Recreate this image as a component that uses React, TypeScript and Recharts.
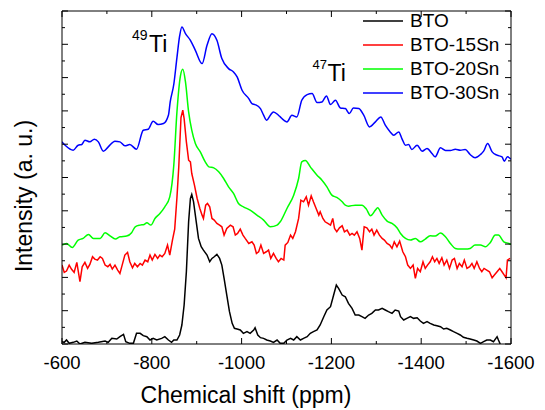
import React from 'react';
import { LineChart, Line, XAxis, YAxis, Legend } from 'recharts';

const FONT = '"Liberation Sans", Arial, Helvetica, sans-serif';

const xMajorTicks = [-600, -800, -1000, -1200, -1400, -1600];
const xMinorTicks = [-700, -900, -1100, -1300, -1500];
const yMajorTicks = [0, 1, 2, 3, 4, 5, 6, 7, 8, 9, 10];
const yMinorTicks = [0.5, 1.5, 2.5, 3.5, 4.5, 5.5, 6.5, 7.5, 8.5, 9.5];

// BTO
const btoShift = [-600, -605, -610, -616, -625, -633, -640, -651, -666, -681, -696, -703, -711, -722, -729, -737, -742, -751, -759, -766, -774, -781, -789, -796, -803, -811, -822, -829, -837, -844, -849, -856, -862, -867, -872, -877, -882, -886, -889, -893, -899, -904, -910, -915, -923, -929, -934, -939, -945, -951, -956, -961, -967, -973, -979, -984, -990, -997, -1004, -1012, -1019, -1027, -1030, -1036, -1042, -1049, -1056, -1064, -1071, -1079, -1086, -1094, -1101, -1109, -1116, -1123, -1131, -1138, -1146, -1153, -1160, -1168, -1175, -1183, -1190, -1198, -1205, -1211, -1216, -1224, -1231, -1238, -1246, -1253, -1261, -1268, -1275, -1283, -1290, -1298, -1305, -1313, -1320, -1327, -1335, -1342, -1350, -1354, -1361, -1368, -1376, -1383, -1391, -1398, -1405, -1413, -1420, -1428, -1435, -1443, -1450, -1457, -1465, -1472, -1480, -1487, -1494, -1502, -1509, -1517, -1524, -1532, -1539, -1546, -1554, -1561, -1569, -1572, -1576];
const btoIntensity = [0.07, 0.05, 0.12, 0.02, 0.05, 0.09, 0, 0.05, 0.02, 0.05, 0.09, 0.05, 0.17, 0.15, 0.22, 0.29, 0.07, 0.02, 0.02, 0.32, 0.32, 0.25, 0.22, 0.12, 0.17, 0.12, 0.17, 0.22, 0.12, 0.05, 0.12, 0.12, 0.27, 0.57, 1.17, 2.17, 3.67, 4.37, 4.49, 4.27, 3.67, 3.17, 2.92, 2.82, 2.67, 2.47, 2.57, 2.62, 2.69, 2.57, 2.37, 1.97, 1.47, 0.97, 0.62, 0.47, 0.45, 0.42, 0.32, 0.37, 0.32, 0.42, 0.49, 0.27, 0.19, 0.17, 0.12, 0.09, 0.05, 0.12, 0.02, 0.02, 0.12, 0.17, 0.12, 0.22, 0.12, 0.17, 0.22, 0.32, 0.37, 0.42, 0.57, 0.82, 1.02, 1.12, 1.47, 1.77, 1.67, 1.47, 1.42, 1.22, 1.07, 0.87, 0.87, 0.82, 0.77, 0.87, 0.92, 1.02, 1.02, 1.07, 1.02, 0.97, 0.92, 1.02, 0.99, 0.82, 0.72, 0.77, 0.82, 0.77, 0.79, 0.69, 0.62, 0.67, 0.62, 0.57, 0.55, 0.52, 0.45, 0.47, 0.42, 0.37, 0.32, 0.27, 0.2, 0.17, 0.15, 0.12, 0.09, 0.02, 0.07, 0.12, 0.12, 0.07, 0.22, 0.12, 0];

// BTO-15Sn
const sn15Shift = [-600, -605, -610, -616, -621, -627, -633, -640, -645, -651, -657, -662, -668, -673, -679, -685, -690, -696, -702, -707, -712, -718, -724, -729, -734, -740, -746, -751, -757, -762, -768, -774, -779, -785, -791, -796, -801, -807, -813, -818, -823, -829, -835, -840, -846, -851, -856, -860, -865, -869, -872, -877, -882, -886, -889, -895, -901, -907, -912, -915, -920, -924, -929, -934, -939, -945, -951, -956, -961, -967, -975, -981, -986, -991, -997, -1003, -1008, -1016, -1023, -1028, -1033, -1038, -1043, -1049, -1055, -1060, -1065, -1071, -1077, -1082, -1088, -1094, -1097, -1103, -1109, -1114, -1120, -1127, -1132, -1138, -1144, -1149, -1155, -1160, -1166, -1172, -1175, -1181, -1186, -1192, -1198, -1203, -1207, -1212, -1218, -1224, -1229, -1235, -1241, -1246, -1251, -1257, -1263, -1268, -1273, -1279, -1285, -1290, -1295, -1301, -1307, -1313, -1318, -1324, -1330, -1335, -1340, -1346, -1352, -1359, -1365, -1370, -1376, -1382, -1387, -1392, -1398, -1404, -1409, -1414, -1420, -1425, -1430, -1435, -1440, -1446, -1451, -1457, -1463, -1469, -1474, -1480, -1485, -1491, -1496, -1502, -1508, -1513, -1518, -1524, -1530, -1535, -1540, -1546, -1552, -1558, -1563, -1569, -1575, -1580, -1585, -1589, -1592, -1598];
const sn15Intensity = [2.37, 2.15, 2.19, 2.37, 2.25, 2.15, 2.45, 1.87, 2.32, 2.45, 2.27, 2.39, 2.62, 2.55, 2.52, 2.62, 2.57, 2.37, 2.32, 2.39, 2.25, 2.37, 2.22, 2.12, 2.37, 2.67, 2.75, 2.47, 2.29, 2.42, 2.32, 2.42, 2.37, 2.52, 2.47, 2.67, 2.52, 2.69, 2.57, 2.67, 2.62, 2.72, 2.97, 2.67, 3.12, 3.45, 4.4, 5.3, 6.8, 7.02, 6.77, 6.07, 5.52, 5.47, 5.12, 4.77, 4.37, 4.07, 3.87, 3.77, 4.17, 4.22, 4.12, 3.77, 3.72, 3.62, 3.57, 3.52, 3.27, 3.47, 3.57, 3.52, 3.27, 3.32, 3.45, 3.27, 3.17, 3.02, 3.07, 2.97, 2.72, 2.77, 2.97, 2.72, 2.77, 2.82, 2.57, 2.72, 2.57, 2.47, 2.57, 2.52, 2.97, 3.05, 3.27, 3.17, 3.37, 3.77, 4.32, 4.27, 4.42, 4.17, 4.45, 4.27, 4.07, 3.87, 3.97, 3.77, 3.67, 3.62, 3.57, 3.77, 3.47, 3.37, 3.49, 3.55, 3.37, 3.42, 3.27, 3.32, 3.27, 3.37, 3.17, 2.82, 3.52, 3.49, 3.37, 3.45, 3.27, 3.42, 3.27, 3.17, 3.12, 3.02, 2.97, 2.87, 3.07, 2.92, 3.09, 2.77, 2.62, 2.37, 2.27, 2.37, 1.97, 2.27, 2.17, 2.47, 2.27, 2.37, 2.47, 2.62, 2.47, 2.57, 2.42, 2.59, 2.37, 2.52, 2.27, 2.52, 2.57, 2.27, 2.42, 2.32, 2.52, 2.27, 2.32, 2.42, 2.27, 2.47, 2.27, 2.17, 2.27, 2.22, 2.17, 1.99, 2.07, 2.17, 2.27, 2.17, 2.07, 1.99, 2.52, 2.57];

// BTO-20Sn
const sn20Shift = [-600, -610, -623, -636, -647, -659, -670, -685, -696, -707, -719, -729, -744, -755, -763, -774, -783, -789, -798, -807, -818, -829, -840, -849, -856, -864, -869, -875, -882, -889, -897, -908, -919, -927, -938, -949, -960, -971, -982, -993, -1004, -1019, -1034, -1049, -1064, -1079, -1086, -1101, -1116, -1127, -1134, -1142, -1153, -1168, -1179, -1190, -1201, -1212, -1224, -1231, -1238, -1253, -1268, -1278, -1287, -1298, -1303, -1313, -1324, -1335, -1346, -1354, -1365, -1376, -1387, -1398, -1409, -1420, -1431, -1443, -1454, -1465, -1476, -1487, -1498, -1509, -1520, -1532, -1543, -1554, -1565, -1572, -1584, -1595, -1600];
const sn20Intensity = [2.97, 3.02, 2.9, 3.12, 3.17, 3.29, 3.17, 3.17, 3.34, 3.25, 3.15, 3.22, 3.24, 3.34, 3.52, 3.57, 3.59, 3.64, 3.57, 3.77, 3.92, 4.12, 4.42, 5.37, 6.97, 8.07, 8.25, 7.87, 6.97, 6.42, 6.02, 5.77, 5.47, 5.32, 5.29, 5.17, 4.97, 4.72, 4.52, 4.22, 4.12, 4.02, 3.87, 3.72, 3.52, 3.57, 3.67, 4.07, 4.47, 4.97, 5.47, 5.51, 5.32, 5.07, 4.92, 4.72, 4.47, 4.4, 4.27, 4.17, 4.14, 4.17, 4.17, 4.05, 3.85, 4.02, 4.09, 3.87, 3.69, 3.62, 3.49, 3.32, 3.17, 3.12, 3.17, 3.07, 3.15, 3.25, 3.24, 3.33, 3.22, 3.02, 2.87, 2.85, 2.85, 2.87, 2.97, 2.97, 2.92, 3.05, 3.27, 3.27, 3.07, 3.02, 2.99];

// BTO-30Sn
const sn30Shift = [-600, -607, -625, -636, -644, -651, -662, -672, -681, -692, -703, -718, -729, -740, -751, -766, -781, -792, -803, -814, -826, -837, -841, -849, -856, -862, -867, -875, -886, -897, -912, -923, -934, -945, -956, -971, -982, -990, -1001, -1016, -1023, -1030, -1042, -1049, -1056, -1064, -1071, -1082, -1086, -1094, -1101, -1112, -1123, -1134, -1146, -1157, -1168, -1179, -1189, -1198, -1209, -1220, -1231, -1240, -1249, -1261, -1272, -1285, -1298, -1310, -1320, -1331, -1339, -1350, -1357, -1365, -1372, -1379, -1391, -1402, -1413, -1424, -1431, -1443, -1454, -1465, -1476, -1487, -1498, -1509, -1520, -1532, -1539, -1548, -1558, -1569, -1580, -1585, -1592, -1600];
const sn30Intensity = [6.07, 5.97, 5.82, 5.97, 5.99, 6.12, 6.07, 6.15, 6.07, 5.79, 5.92, 6.09, 6.07, 5.95, 5.99, 5.85, 6.42, 6.45, 6.69, 6.59, 6.62, 6.87, 7.27, 7.8, 8.6, 9.25, 9.52, 9.32, 9.12, 8.82, 8.42, 8.97, 9.32, 9.12, 8.57, 8.27, 8.17, 8.02, 7.62, 7.37, 7.22, 7.19, 7.07, 6.87, 6.72, 6.87, 6.97, 6.87, 6.82, 6.72, 6.67, 6.87, 6.82, 7.32, 7.49, 7.52, 7.25, 7.27, 7.45, 7.19, 7.32, 7.09, 7.07, 6.92, 7.09, 7.07, 6.87, 6.52, 6.67, 6.82, 6.57, 6.37, 6.27, 6.37, 6.17, 5.97, 5.99, 5.84, 5.97, 5.79, 5.87, 5.72, 5.62, 5.89, 5.81, 5.81, 5.85, 5.82, 5.84, 5.69, 5.59, 5.69, 5.79, 6.02, 5.77, 5.67, 5.62, 5.49, 5.62, 5.55];

const zip = (shift: number[], intensity: number[]) =>
  shift.map((s, i) => ({ shift: s, intensity: intensity[i] }));

// noisy traces stay linear, the smoothed ones use monotone curves
const series = [
  { name: 'BTO', color: '#000000', curve: 'linear', data: zip(btoShift, btoIntensity) },
  { name: 'BTO-15Sn', color: '#ff0000', curve: 'linear', data: zip(sn15Shift, sn15Intensity) },
  { name: 'BTO-20Sn', color: '#00ff00', curve: 'monotone', data: zip(sn20Shift, sn20Intensity) },
  { name: 'BTO-30Sn', color: '#0000ff', curve: 'monotone', data: zip(sn30Shift, sn30Intensity) },
];

const MAJOR = 6;
const MINOR = 3;

const BottomTick = (props: any) => {
  const { x, y, payload } = props;
  const major = xMajorTicks.includes(payload.value);
  return (
    <g>
      <line x1={x} x2={x} y1={y} y2={y - (major ? MAJOR : MINOR)} stroke="#000" />
      {major && (
        <text x={x} y={y + 24.5} textAnchor="middle" fontSize={18.5} fontFamily={FONT} fill="#000">
          {payload.value}
        </text>
      )}
    </g>
  );
};

const TopTick = (props: any) => {
  const { x, y, payload } = props;
  const major = xMajorTicks.includes(payload.value);
  return <line x1={x} x2={x} y1={y} y2={y + (major ? MAJOR : MINOR)} stroke="#000" />;
};

const LeftTick = (props: any) => {
  const { x, y, payload } = props;
  const major = yMajorTicks.includes(payload.value);
  return <line x1={x} x2={x + (major ? MAJOR : MINOR)} y1={y} y2={y} stroke="#000" />;
};

const RightTick = (props: any) => {
  const { x, y, payload } = props;
  const major = yMajorTicks.includes(payload.value);
  return <line x1={x} x2={x - (major ? MAJOR : MINOR)} y1={y} y2={y} stroke="#000" />;
};

const renderLegend = (props: any) => {
  const { payload } = props;
  return (
    <div style={{ fontFamily: FONT, fontSize: 19, color: '#000' }}>
      {payload.map((p: any) => (
        <div key={p.value} style={{ display: 'flex', alignItems: 'center', height: 23.8 }}>
          <svg width={40} height={4} style={{ display: 'block' }}>
            <line x1={0} x2={40} y1={2} y2={2} stroke={p.color} strokeWidth={1.5} />
          </svg>
          <span style={{ marginLeft: 7, whiteSpace: 'nowrap' }}>{p.value}</span>
        </div>
      ))}
    </div>
  );
};

const xAll = [...xMajorTicks, ...xMinorTicks];
const yAll = [...yMajorTicks, ...yMinorTicks];

export default function App() {
  return (
    <div style={{ position: 'absolute', left: 0, top: 0, width: 545, height: 410, background: '#fff' }}>
      <LineChart width={545} height={410} margin={{ top: 10, right: 33, bottom: 65, left: 61 }}>
        <XAxis
          xAxisId="bottom"
          dataKey="shift"
          type="number"
          domain={[-1600, -600]}
          reversed
          allowDataOverflow
          ticks={xAll}
          interval={0}
          height={1}
          tickSize={0}
          tickMargin={0}
          tickLine={false}
          tick={<BottomTick />}
          axisLine={{ stroke: '#000' }}
        />
        <XAxis
          xAxisId="top"
          orientation="top"
          dataKey="shift"
          type="number"
          domain={[-1600, -600]}
          reversed
          allowDataOverflow
          ticks={xAll}
          interval={0}
          height={1}
          tickSize={0}
          tickMargin={0}
          tickLine={false}
          tick={<TopTick />}
          axisLine={{ stroke: '#000' }}
        />
        <YAxis
          yAxisId="left"
          type="number"
          domain={[0, 10]}
          allowDataOverflow
          ticks={yAll}
          interval={0}
          width={1}
          tickSize={0}
          tickMargin={0}
          tickLine={false}
          tick={<LeftTick />}
          axisLine={{ stroke: '#000' }}
        />
        <YAxis
          yAxisId="right"
          orientation="right"
          type="number"
          domain={[0, 10]}
          allowDataOverflow
          ticks={yAll}
          interval={0}
          width={1}
          tickSize={0}
          tickMargin={0}
          tickLine={false}
          tick={<RightTick />}
          axisLine={{ stroke: '#000' }}
        />
        <Legend
          layout="vertical"
          align="center"
          verticalAlign="middle"
          content={renderLegend}
          wrapperStyle={{ left: 363, top: 9.6, width: 170 }}
        />
        {series.map((s) => (
          <Line
            key={s.name}
            xAxisId="bottom"
            yAxisId="left"
            data={s.data}
            dataKey="intensity"
            name={s.name}
            type={s.curve as any}
            stroke={s.color}
            strokeWidth={1.5}
            dot={false}
            activeDot={false}
            isAnimationActive={false}
          />
        ))}
      </LineChart>
      <svg
        width={545}
        height={410}
        style={{ position: 'absolute', left: 0, top: 0, pointerEvents: 'none' }}
        fontFamily={FONT}
        fill="#000"
      >
        <text x={246} y={403} textAnchor="middle" fontSize={23}>
          Chemical shift (ppm)
        </text>
        <text transform="translate(32,196) rotate(-90)" textAnchor="middle" fontSize={23}>
          Intensity (a. u.)
        </text>
        <text>
          <tspan x={132} y={39.5} fontSize={14}>49</tspan>
          <tspan x={149} y={52} fontSize={23}>Ti</tspan>
        </text>
        <text>
          <tspan x={312.5} y={68.5} fontSize={13}>47</tspan>
          <tspan x={327.5} y={81} fontSize={23}>Ti</tspan>
        </text>
      </svg>
    </div>
  );
}
